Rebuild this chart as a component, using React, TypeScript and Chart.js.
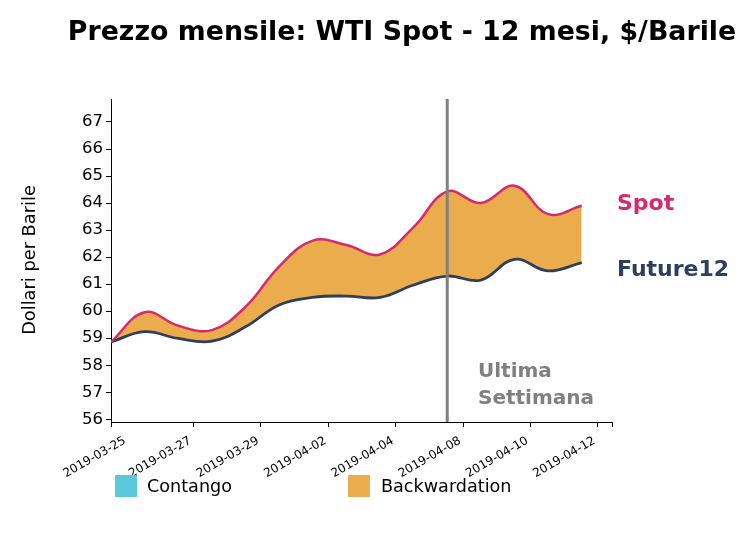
import React, { useEffect, useRef } from "react";
import { Chart, registerables } from "chart.js";

Chart.register(...registerables);

const dates = [
  "2019-03-25", "2019-03-26", "2019-03-27", "2019-03-28", "2019-03-29",
  "2019-04-01", "2019-04-02", "2019-04-03", "2019-04-04", "2019-04-05",
  "2019-04-08", "2019-04-09", "2019-04-10", "2019-04-11", "2019-04-12",
];
const spot = [58.86, 59.96, 59.46, 59.3, 60.16, 61.65, 62.61, 62.45, 62.1, 63.11, 64.43, 64.0, 64.64, 63.59, 63.9];
const future12 = [58.86, 59.24, 58.99, 58.89, 59.42, 60.23, 60.51, 60.56, 60.51, 60.97, 61.3, 61.15, 61.92, 61.49, 61.8];
const xTickLabels = ["2019-03-25", "2019-03-27", "2019-03-29", "2019-04-02", "2019-04-04", "2019-04-08", "2019-04-10", "2019-04-12"];
const xTickPositions = [0, 2.45, 4.46, 6.47, 8.47, 10.47, 12.47, 14.47, 14.9];
const xLabelPositions = [0.5, 2.45, 4.46, 6.47, 8.47, 10.47, 12.47, 14.47];
const yTicks = [56, 57, 58, 59, 60, 61, 62, 63, 64, 65, 66, 67];
const lastWeekStart = "2019-04-08";

const FONT = "'DejaVu Sans', sans-serif";
const SPOT_COLOR = "#d62a6e";
const FUT_COLOR = "#2d3e5e";
const ORANGE = "#ebac4d";
const CYAN = "#5bc8dc";
const GRAY = "#808080";

const overlay = {
  id: "overlay",
  afterDatasetsDraw(chart: any) {
    const { ctx, chartArea, scales } = chart;
    const px = scales.x.getPixelForValue(dates.indexOf(lastWeekStart));
    ctx.save();
    ctx.strokeStyle = GRAY;
    ctx.lineWidth = 3;
    ctx.beginPath();
    ctx.moveTo(px, chartArea.top);
    ctx.lineTo(px, chartArea.bottom);
    ctx.stroke();
    ctx.restore();
  },
  afterDraw(chart: any) {
    const { ctx, scales, chartArea } = chart;
    ctx.save();
    // x tick labels (rotated 30deg, right-aligned)
    ctx.fillStyle = "#000";
    ctx.font = `12px ${FONT}`;
    ctx.textAlign = "right";
    ctx.textBaseline = "bottom";
    const ang = (30 * Math.PI) / 180;
    xTickLabels.forEach((lab, i) => {
      const px = scales.x.getPixelForValue(xLabelPositions[i]);
      ctx.save();
      ctx.translate(px, chartArea.bottom + 11 + 14 * Math.cos(ang));
      ctx.rotate(-ang);
      ctx.fillText(lab, 0, 0);
      ctx.restore();
    });
    // title
    ctx.fillStyle = "#000";
    ctx.font = `bold 26.8px ${FONT}`;
    ctx.textAlign = "center";
    ctx.textBaseline = "alphabetic";
    ctx.fillText("Prezzo mensile: WTI Spot - 12 mesi, $/Barile", 402, 40);
    // y title
    ctx.save();
    ctx.translate(30, 260);
    ctx.rotate(-Math.PI / 2);
    ctx.font = `17.8px ${FONT}`;
    ctx.textBaseline = "middle";
    ctx.fillText("Dollari per Barile", 0, 0);
    ctx.restore();
    // series labels
    ctx.textAlign = "left";
    ctx.font = `bold 22px ${FONT}`;
    ctx.fillStyle = SPOT_COLOR;
    ctx.fillText("Spot", 617, 210);
    ctx.fillStyle = FUT_COLOR;
    ctx.fillText("Future12", 617, 276);
    ctx.font = `bold 20px ${FONT}`;
    ctx.fillStyle = GRAY;
    ctx.fillText("Ultima", 478, 377);
    ctx.fillText("Settimana", 478, 404);
    // legend
    ctx.font = `17.6px ${FONT}`;
    ctx.textBaseline = "middle";
    ctx.fillStyle = CYAN;
    ctx.fillRect(115, 475, 22, 22);
    ctx.fillStyle = "#000";
    ctx.fillText("Contango", 147, 487);
    ctx.fillStyle = ORANGE;
    ctx.fillRect(348, 475, 22, 22);
    ctx.fillStyle = "#000";
    ctx.fillText("Backwardation", 381, 487);
    ctx.restore();
  },
};

export default function App() {
  const ref = useRef<HTMLCanvasElement>(null);
  useEffect(() => {
    document.body.style.margin = "0";
    const chart = new Chart(ref.current as HTMLCanvasElement, {
      type: "line",
      data: {
        datasets: [
          {
            label: "Spot",
            data: spot.map((v, i) => ({ x: i, y: v })),
            borderColor: SPOT_COLOR,
            borderWidth: 2.5,
            pointRadius: 0,
            tension: 0.4,
            fill: { target: 1, above: ORANGE, below: CYAN },
          },
          {
            label: "Future12",
            data: future12.map((v, i) => ({ x: i, y: v })),
            borderColor: FUT_COLOR,
            borderWidth: 2.8,
            pointRadius: 0,
            tension: 0.4,
            fill: false,
          },
        ],
      },
      options: {
        animation: false,
        responsive: false,
        devicePixelRatio: 1,
        layout: { padding: { top: 99, right: 139, bottom: 0, left: 0 } },
        plugins: {
          legend: { display: false },
          tooltip: { enabled: false },
          title: { display: false },
          filler: { drawTime: "beforeDatasetsDraw" },
        },
        scales: {
          x: {
            type: "linear",
            min: 0,
            max: 14.9,
            afterBuildTicks: (s: any) => {
              s.ticks = xTickPositions.map((v) => ({ value: v }));
            },
            afterFit: (s: any) => {
              s.height = 119;
            },
            ticks: { display: false, autoSkip: false },
            grid: { drawOnChartArea: false, drawTicks: true, tickLength: 5, tickColor: "#000", tickWidth: 1 },
            border: { display: true, color: "#000", width: 1 },
          },
          y: {
            type: "linear",
            min: 55.9,
            max: 67.85,
            afterBuildTicks: (s: any) => {
              s.ticks = yTicks.map((v) => ({ value: v }));
            },
            afterFit: (s: any) => {
              s.width = 111;
            },
            ticks: {
              color: "#000",
              font: { family: FONT, size: 16.5 },
              padding: 3,
              callback: (v: any) => String(v),
            },
            grid: { drawOnChartArea: false, drawTicks: true, tickLength: 5, tickColor: "#000", tickWidth: 1 },
            border: { display: true, color: "#000", width: 1 },
          },
        },
      },
      plugins: [overlay],
    } as any);
    return () => chart.destroy();
  }, []);
  return (
    <div style={{ position: "absolute", left: 0, top: 0, width: 751, height: 541, background: "#fff" }}>
      <canvas ref={ref} width={751} height={541} style={{ width: 751, height: 541 }} />
    </div>
  );
}
